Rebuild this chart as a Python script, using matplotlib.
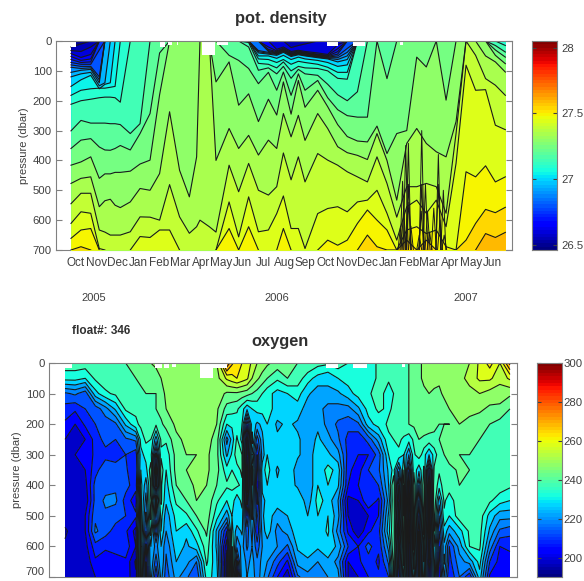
# Float 346 sections: potential density and oxygen against pressure and time
import numpy as np
import matplotlib
matplotlib.use('Agg')
import matplotlib.pyplot as plt

plt.rcParams['font.family'] = ['Liberation Sans', 'DejaVu Sans']

month_labels = ['Oct', 'Nov', 'Dec', 'Jan', 'Feb', 'Mar', 'Apr', 'May', 'Jun', 'Jul', 'Aug', 'Sep',
                'Oct', 'Nov', 'Dec', 'Jan', 'Feb', 'Mar', 'Apr', 'May', 'Jun']
year_labels = ['2005', '2006', '2007']
year_months = [0.87, 9.66, 18.75]
pressure_ticks = [0, 100, 200, 300, 400, 500, 600, 700]

# months since Oct 2005, one entry per profile
density_months = [-.24, .24, .71, 1.12, 1.39, 1.65, 1.88, 2.13,
                  2.61, 3.08, 3.56, 4.02, 4.50, 4.98, 5.45, 5.80,
                  5.96, 6.41, 6.73, 7.36, 7.82, 8.30, 8.77, 9.25,
                  9.65, 9.97, 10.34, 10.69, 11.01, 11.62, 12.10, 12.58,
                  13.04, 13.53, 14.01, 14.47, 14.95, 15.42, 15.90, 16.38,
                  16.84, 17.32, 17.79, 18.27, 18.75, 19.21, 19.69, 20.16, 20.64]

# depth (dbar) of each isopycnal at those profiles
iso_2760 = [700]*46 + [645, 658, 641]
iso_2755 = [700, 689, 700, 700, 700, 700, 700, 700] + [700]*24 + \
           [700, 700, 650, 689, 700, 700, 667, 700, 667, 700, 700, 700, 667, 611, 564, 575, 557]
iso_2750 = [661, 633, 628, 700, 700, 700, 700, 700] + [700]*8 + \
           [700, 700, 700, 628, 700, 622, 700, 700, 700, 628, 700, 700, 700, 700, 667, 684,
            667, 611, 566, 600, 633, 700, 633, 622, 645, 633, 689, 700, 438, 455, 418, 472, 455]
iso_2745 = [611, 572, 577, 695, 700, 700, 700, 700, 700, 655, 658, 633, 633, 700, 700, 700,
            700, 700, 700, 539, 656, 522, 639, 633, 578, 519, 628, 628, 695, 578, 561, 555,
            572, 539, 533, 500, 577, 667, 555, 533, 577, 533, 622, 410, 81, 165, 163, 282, 297]
iso_2740 = [545, 510, 510, 633, 640, 650, 650, 650, 639, 589, 590, 600, 481, 589, 644, 622,
            600, 622, 640, 416, 505, 410, 500, 516, 488, 375, 465, 388, 472, 377, 399, 416,
            438, 455, 472, 388, 477, 590, 488, 488, 477, 488, 577, 310, 0, 48, 126, 148, 182]
iso_2735 = [477, 460, 455, 555, 535, 530, 550, 558, 539, 494, 500, 444, 237, 433, 522, 388,
            0, 0, 400, 293, 360, 316, 382, 332, 360, 243, 321, 249, 333, 243, 293, 354,
            374, 383, 397, 310, 400, 533, 343, 293, 343, 371, 388, 270, 0, 0, 50, 70, 104]
iso_2730 = [416, 405, 388, 460, 445, 445, 440, 440, 436, 412, 399, 180, 0, 0, 0, 0,
            0, 0, 137, 70, 215, 177, 270, 195, 248, 137, 245, 132, 222, 165, 220, 280,
            320, 335, 338, 285, 377, 310, 300, 54, 87, 0, 198, 0, 0, 0, 0, 48, 76]
iso_2725 = [360, 332, 327, 355, 365, 366, 360, 350, 365, 310, 243, 40, 0, 0, 0, 0,
            0, 0, 0, 48, 65, 92, 143, 105, 165, 104, 182, 110, 165, 132, 190, 230,
            250, 255, 255, 0, 126, 0, 0, 0, 0, 0, 0, 0, 0, 0, 0, 30, 54]
iso_2720 = [301, 266, 275, 275, 275, 277, 277, 280, 310, 277, 0, 0, 0, 0, 0, 0,
            0, 0, 0, 0, 0, 20, 98, 90, 110, 85, 125, 95, 110, 115, 145, 180,
            200, 170, 0, 0, 0, 0, 0, 0, 0, 0, 0, 0, 0, 0, 0, 15, 37]
iso_2715 = [212, 200, 195, 190, 188, 188, 190, 205] + [0]*8 + \
           [0, 0, 0, 0, 0, 5, 75, 78, 90, 70, 100, 85, 90, 92, 100, 125, 128] + [0]*15 + [15]
iso_2710 = [182, 165, 160, 158, 158, 155, 152, 0] + [0]*8 + \
           [0, 0, 0, 0, 0, 0, 60, 62, 72, 62, 78, 68, 72, 78, 88, 105, 105] + [0]*16
iso_2705 = [152, 130, 115, 160, 145, 140, 0, 0] + [0]*8 + \
           [0, 0, 0, 0, 0, 0, 50, 50, 58, 48, 62, 54, 60, 65, 72, 85, 80] + [0]*16
iso_2700 = [120, 110, 105, 150, 140, 0, 0, 0] + [0]*8 + \
           [0, 0, 0, 0, 0, 0, 40, 44, 48, 38, 52, 46, 50, 56, 60, 70, 62] + [0]*16
iso_2695 = [105, 98, 95, 140, 0, 0, 0, 0] + [0]*8 + \
           [0, 0, 0, 0, 0, 0, 36, 41, 45, 35, 49, 44, 48, 54, 58, 62, 50] + [0]*16
iso_2690 = [88, 92, 90, 130, 0, 0, 0, 0] + [0]*8 + \
           [0, 0, 0, 0, 0, 0, 32, 38, 43, 33, 47, 42, 46, 52, 56, 56, 38] + [0]*16
iso_2685 = [80, 85, 85, 120, 0, 0, 0, 0] + [0]*8 + \
           [0, 0, 0, 0, 0, 0, 0, 35, 41, 31, 45, 40, 44, 50, 54, 50, 25] + [0]*16
iso_2680 = [72, 78, 78, 30, 0, 0, 0, 0] + [0]*8 + \
           [0, 0, 0, 0, 0, 0, 0, 32, 39, 29, 43, 38, 42, 48, 52, 44, 0] + [0]*16
iso_2675 = [62, 72, 70, 0, 0, 0, 0, 0] + [0]*8 + \
           [0, 0, 0, 0, 0, 0, 0, 28, 36, 27, 41, 36, 40, 46, 50, 36, 0] + [0]*16
iso_2670 = [52, 65, 60, 0, 0, 0, 0, 0] + [0]*8 + \
           [0, 0, 0, 0, 0, 0, 0, 20, 33, 24, 38, 34, 38, 44, 48, 26, 0] + [0]*16
iso_2665 = [42, 55, 45, 0, 0, 0, 0, 0] + [0]*8 + \
           [0, 0, 0, 0, 0, 0, 0, 0, 28, 20, 35, 31, 35, 40, 45, 12, 0] + [0]*16
iso_2660 = [32, 35, 20, 0, 0, 0, 0, 0] + [0]*8 + \
           [0, 0, 0, 0, 0, 0, 0, 0, 0, 0, 22, 15, 10, 0, 0, 0, 0] + [0]*16
iso_2655 = [20, 10, 0, 0, 0, 0, 0, 0] + [0]*41

isopycnals = [(26.55, iso_2655), (26.60, iso_2660), (26.65, iso_2665), (26.70, iso_2670),
              (26.75, iso_2675), (26.80, iso_2680), (26.85, iso_2685), (26.90, iso_2690),
              (26.95, iso_2695), (27.00, iso_2700), (27.05, iso_2705), (27.10, iso_2710),
              (27.15, iso_2715), (27.20, iso_2720), (27.25, iso_2725), (27.30, iso_2730),
              (27.35, iso_2735), (27.40, iso_2740), (27.45, iso_2745), (27.50, iso_2750),
              (27.55, iso_2755), (27.60, iso_2760)]

# narrow upward spikes in early 2007: level, month, peak depth
density_spikes = [(27.30, 15.85, 350),
                  (27.35, 15.98, 343), (27.35, 16.62, 300), (27.35, 17.42, 380),
                  (27.40, 15.70, 470), (27.40, 15.98, 480), (27.40, 16.62, 480), (27.40, 16.80, 480),
                  (27.40, 17.42, 480), (27.40, 17.66, 500),
                  (27.45, 15.75, 560), (27.45, 16.00, 540), (27.45, 16.60, 570), (27.45, 16.90, 570),
                  (27.45, 17.20, 560), (27.45, 17.50, 600),
                  (27.50, 15.60, 620), (27.50, 16.10, 620), (27.50, 16.50, 650), (27.50, 17.00, 640),
                  (27.50, 17.70, 650)]

# shallow gaps with no data: start month, end month, depth
density_gaps = [(-.24, 0.0, 20), (4.04, 4.28, 20), (4.44, 4.6, 15), (4.84, 4.92, 12), (6.04, 6.68, 48),
                (6.76, 7.32, 15), (12.05, 12.6, 17), (13.3, 13.9, 17), (15.58, 15.74, 15)]
oxygen_gaps = [(-.24, 0.1, 15), (3.98, 4.31, 15), (4.40, 4.63, 15), (4.77, 4.96, 12), (6.08, 6.69, 50),
               (6.69, 7.35, 15), (12.0, 12.55, 15), (13.25, 13.9, 15), (15.55, 15.7, 12)]

oxygen_pressure = [0, 50, 100, 150, 200, 250, 300, 400, 500, 600, 700]
# one row per profile, left to right
oxygen_profiles = [
    [238, 232, 214, 208, 204, 200, 200, 196, 198, 196, 196],
    [238, 232, 216, 206, 200, 196, 200, 200, 198, 198, 196],
    [238, 230, 212, 210, 206, 200, 202, 198, 200, 198, 198],
    [238, 236, 228, 212, 210, 207, 206, 212, 214, 208, 200],
    [238, 238, 234, 218, 212, 212, 208, 213, 214, 206, 202],
    [240, 238, 236, 226, 214, 210, 208, 214, 212, 206, 203],
    [240, 240, 238, 236, 226, 214, 210, 212, 210, 208, 203],
    [243, 240, 238, 236, 234, 216, 207, 207, 206, 200, 196],
    [244, 242, 240, 240, 238, 236, 232, 222, 214, 204, 198],
    [246, 243, 240, 240, 236, 222, 208, 204, 212, 218, 205],
    [248, 247, 246, 245, 242, 236, 232, 228, 222, 216, 212],
    [249, 248, 248, 247, 246, 244, 242, 240, 232, 228, 222],
    [250, 249, 248, 248, 247, 246, 245, 243, 234, 224, 216],
    [250, 250, 249, 248, 247, 246, 245, 246, 240, 228, 210],
    [250, 250, 249, 248, 248, 247, 246, 245, 243, 238, 232],
    [250, 248, 248, 246, 245, 243, 242, 240, 232, 224, 228],
    [275, 256, 244, 238, 230, 218, 224, 236, 222, 196, 192],
    [262, 260, 244, 236, 232, 236, 238, 236, 230, 216, 192],
    [258, 256, 242, 226, 206, 196, 196, 192, 205, 214, 220],
    [250, 246, 238, 232, 224, 212, 205, 200, 208, 212, 218],
    [246, 240, 232, 232, 230, 230, 230, 230, 228, 222, 216],
    [243, 236, 228, 228, 224, 226, 228, 226, 222, 220, 205],
    [243, 240, 230, 228, 226, 226, 228, 228, 225, 214, 196],
    [240, 238, 232, 228, 224, 226, 226, 224, 228, 226, 214],
    [240, 232, 226, 222, 222, 222, 222, 220, 225, 228, 218],
    [237, 228, 222, 222, 224, 226, 228, 230, 230, 226, 216],
    [236, 226, 224, 218, 218, 222, 226, 230, 230, 228, 220],
    [238, 230, 224, 218, 214, 216, 222, 226, 222, 224, 222],
    [235, 232, 228, 218, 212, 208, 208, 205, 200, 210, 200],
    [233, 232, 232, 224, 214, 206, 205, 205, 198, 205, 200],
    [232, 232, 234, 232, 228, 212, 205, 207, 200, 212, 205],
    [236, 236, 238, 236, 232, 222, 212, 210, 205, 206, 206],
    [238, 236, 232, 234, 236, 234, 230, 225, 226, 222, 210],
    [240, 240, 238, 238, 238, 236, 234, 205, 205, 205, 200],
    [240, 240, 240, 240, 240, 232, 220, 198, 196, 196, 198],
    [244, 244, 244, 243, 243, 240, 238, 215, 205, 198, 200],
    [248, 248, 245, 244, 243, 238, 225, 198, 196, 198, 200],
    [246, 246, 244, 242, 240, 240, 238, 232, 215, 205, 200],
    [250, 250, 248, 245, 240, 243, 243, 238, 230, 210, 205],
    [248, 248, 248, 246, 245, 242, 240, 240, 238, 222, 215],
    [250, 252, 248, 246, 244, 242, 240, 238, 238, 235, 206],
    [256, 256, 250, 246, 242, 240, 238, 238, 238, 236, 228],
    [262, 256, 248, 244, 240, 238, 236, 240, 228, 218, 204],
    [255, 252, 247, 244, 238, 238, 238, 238, 222, 205, 203],
    [272, 256, 246, 240, 238, 236, 236, 236, 222, 206, 203],
]
# in-between depths, same profiles
oxygen_350 = [198, 196, 200, 208, 214, 212, 211, 205, 228, 198, 230, 242, 245, 247, 246,
              242, 232, 233, 190, 202, 232, 224, 230, 222, 224, 226, 232, 228, 206, 203,
              210, 214, 226, 216, 206, 226, 205, 236, 238, 241, 240, 240, 238, 236, 237]
oxygen_450 = [200, 200, 196, 212, 216, 216, 208, 202, 218, 215, 226, 236, 240, 245, 244,
              236, 230, 226, 198, 204, 226, 228, 226, 230, 222, 232, 228, 220, 198, 200,
              210, 204, 222, 200, 192, 210, 194, 222, 232, 239, 236, 238, 236, 232, 230]
oxygen_550 = [194, 198, 200, 216, 212, 208, 206, 198, 210, 205, 220, 230, 226, 234, 241,
              224, 205, 222, 212, 205, 228, 218, 222, 228, 226, 226, 231, 218, 204, 196,
              204, 208, 228, 198, 192, 200, 192, 210, 222, 228, 236, 237, 224, 214, 212]
oxygen_650 = [197, 195, 196, 204, 202, 204, 204, 194, 200, 212, 214, 225, 222, 215, 236,
              226, 192, 204, 218, 216, 220, 212, 204, 222, 224, 220, 224, 218, 200, 204,
              208, 204, 216, 202, 198, 199, 196, 202, 208, 218, 222, 232, 210, 203, 203]
oxygen_between = {350: oxygen_350, 450: oxygen_450, 550: oxygen_550, 650: oxygen_650}
oxygen_months = list(np.linspace(-0.24, 20.6, len(oxygen_profiles)))

# short-lived high values between the regular profiles, all 15 depths, 0 to 700 dbar
extra_months = [3.31, 3.78, 4.26, 7.58, 8.05, 8.52, 9.0, 15.15, 15.63, 16.1, 16.57, 17.05, 17.52]
extra_profiles = [
    [243, 241, 239, 238, 236, 232, 228, 230, 232, 232, 232, 232, 230, 232, 230],
    [245, 243, 240, 240, 237, 235, 232, 238, 236, 238, 236, 232, 225, 225, 222],
    [247, 245, 243, 242, 239, 236, 234, 238, 236, 236, 232, 230, 225, 225, 222],
    [266, 258, 244, 237, 231, 227, 231, 235, 236, 233, 230, 232, 235, 238, 236],
    [260, 258, 243, 232, 230, 228, 235, 236, 234, 232, 228, 226, 222, 225, 225],
    [254, 250, 240, 230, 228, 232, 225, 232, 230, 228, 226, 222, 220, 222, 222],
    [248, 243, 235, 232, 226, 224, 222, 228, 226, 224, 224, 222, 220, 222, 222],
    [239, 238, 235, 236, 237, 235, 232, 232, 240, 240, 240, 240, 240, 238, 236],
    [240, 240, 239, 239, 239, 234, 230, 235, 240, 242, 240, 240, 238, 236, 232],
    [242, 242, 242, 241, 241, 236, 234, 234, 240, 240, 238, 238, 236, 232, 228],
    [246, 246, 244, 243, 243, 239, 232, 236, 240, 240, 238, 236, 232, 230, 228],
    [247, 247, 244, 243, 241, 239, 232, 236, 240, 240, 238, 235, 230, 228, 226],
    [248, 248, 246, 243, 240, 241, 240, 240, 238, 236, 234, 228, 224, 226, 220],
]
oxygen_levels = np.arange(190, 305, 5)

density_range = (26.46, 28.05)
oxygen_range = (190, 300)
density_cticks = [26.5, 27, 27.5, 28]
density_cticklabels = ['26.5', '27', '27.5', '28']
oxygen_cticks = [200, 220, 240, 260, 280, 300]

jet = plt.get_cmap('jet', 64)
FW, FH = 584, 581
text_c = '#404040'
edge_c = '#808080'
line_c = '#1a1a1a'


def add_axes(fig, left, right, top, bottom):
    return fig.add_axes([left/FW, 1-bottom/FH, (right-left)/FW, (bottom-top)/FH])


def style_section(ax, xlim):
    ax.set_xlim(xlim)
    ax.set_ylim(700, 0)
    ax.set_yticks(pressure_ticks)
    ax.set_ylabel('pressure (dbar)', fontsize=8, color=text_c, labelpad=3)
    ax.tick_params(axis='y', direction='in', left=True, right=True, length=4, width=0.8,
                   color=edge_c, labelcolor=text_c, labelsize=8.2, pad=3)
    for s in ax.spines.values():
        s.set_color(edge_c)
        s.set_zorder(1)
    ax.spines['top'].set_zorder(6)


def add_colorbar(cax, vrange, ticks, labels, pad):
    vals = np.linspace(vrange[0], vrange[1], 65)
    cax.pcolormesh([0, 1], vals, np.linspace(0, 1, 64).reshape(-1, 1), cmap=jet, vmin=0, vmax=1)
    cax.set_xticks([])
    cax.set_ylim(vrange)
    cax.set_yticks(ticks)
    cax.set_yticklabels(labels)
    cax.yaxis.tick_right()
    cax.tick_params(axis='y', direction='in', left=True, right=True, length=3, width=0.8,
                    color='#404040', labelcolor=text_c, labelsize=8.2, pad=pad)
    for s in cax.spines.values():
        s.set_color(edge_c)


def draw_gaps(ax, gaps):
    for start, end, depth in gaps:
        ax.fill_between([start, end], 0, depth, color='white', lw=0, zorder=5)


fig = plt.figure(figsize=(FW/100, FH/100), dpi=100)

# potential density
ax1 = add_axes(fig, 56, 512, 41, 250)
t = np.array(density_months)
norm_d = lambda v: (v-density_range[0])/(density_range[1]-density_range[0])
ax1.fill_between(t, 0, 700, color=jet(norm_d(26.5)), lw=0, zorder=2)
for level, depth in isopycnals:
    ax1.fill_between(t, depth, 700, color=jet(norm_d(level)), lw=0, zorder=2)
    for lev, m, peak in density_spikes:
        if lev == level:
            ax1.fill_between([m-.12, m, m+.12], [700, peak, 700], 700, color=jet(norm_d(level)), lw=0, zorder=2)
for level, depth in isopycnals:
    d = np.array(depth, dtype=float)
    edge = (d <= 0) | (d >= 700)
    hide = edge & np.r_[True, d[:-1] == d[1:]] & np.r_[d[:-1] == d[1:], True]
    ax1.plot(t, np.where(hide, np.nan, d), color=line_c, lw=0.8, zorder=3)
for lev, m, peak in density_spikes:
    ax1.plot([m-.12, m, m+.12], [700, peak, 700], color=line_c, lw=0.7, zorder=3)
draw_gaps(ax1, density_gaps)
style_section(ax1, (-0.96, 20.96))
ax1.set_xticks(range(len(month_labels)))
ax1.set_xticklabels(month_labels)
ax1.tick_params(axis='x', length=0, labelcolor=text_c, labelsize=8.5, pad=5)
ax1.set_title('pot. density', x=0.493, fontsize=11.8, fontweight='bold', color='#303030', pad=13)
for label, m in zip(year_labels, year_months):
    ax1.text(m, 860, label, ha='center', va='center', fontsize=8, color=text_c)

cax1 = add_axes(fig, 532, 557, 41, 250)
add_colorbar(cax1, density_range, density_cticks, density_cticklabels, 3)

fig.text(72/FW, 1-331/FH, 'float#: 346', fontsize=8.5, fontweight='bold', color='#303030', va='center')

# oxygen
ax2 = add_axes(fig, 49, 517, 363, 577)
pressure = oxygen_pressure + list(oxygen_between)
table = np.vstack([np.array(oxygen_profiles, dtype=float).T,
                   np.array(list(oxygen_between.values()), dtype=float)])
p_order = np.argsort(pressure)
table = table[p_order]
months = np.array(oxygen_months + extra_months)
table = np.hstack([table, np.array(extra_profiles, dtype=float).T])
m_order = np.argsort(months)
ax2.contourf(months[m_order], np.array(pressure)[p_order], table[:, m_order], levels=oxygen_levels, cmap=jet,
             vmin=oxygen_range[0], vmax=oxygen_range[1], zorder=2)
ax2.contour(months[m_order], np.array(pressure)[p_order], table[:, m_order], levels=oxygen_levels, colors=line_c,
            linewidths=0.8, linestyles='solid', zorder=3)
draw_gaps(ax2, oxygen_gaps)
style_section(ax2, (-0.99, 20.93))
ax2.set_xticks([])
ax2.set_title('oxygen', x=0.494, fontsize=11.8, fontweight='bold', color='#303030', pad=12)
ax2.get_yticklabels()[-1].set_va('bottom')

cax2 = add_axes(fig, 537, 562, 363, 577)
add_colorbar(cax2, oxygen_range, oxygen_cticks, [str(v) for v in oxygen_cticks], 1)

fig.savefig('out.png', dpi=100)
